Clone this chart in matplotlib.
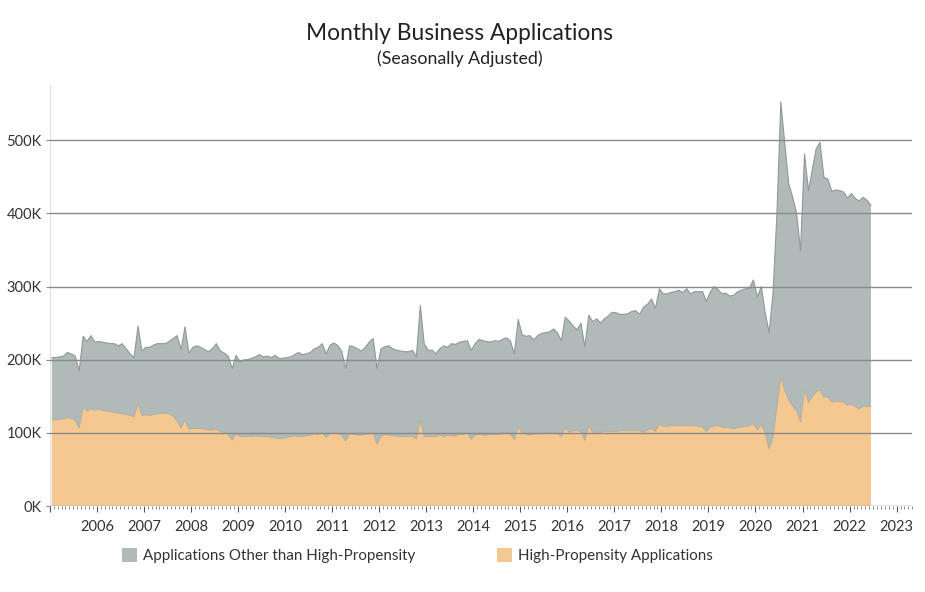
import numpy as np
import pandas as pd
import matplotlib
matplotlib.use('Agg')
import matplotlib.pyplot as plt
import matplotlib.dates as mdates
from matplotlib.patches import Patch
from matplotlib.ticker import FuncFormatter

plt.rcParams['font.family'] = ['Lato', 'DejaVu Sans']

# total business applications per month (thousands), Jan 2005 .. Jun 2022
total_k = [
    203, 203, 204, 205, 210, 208, 205, 185, 232, 225, 233, 224,   # 2005
    225, 224, 223, 222, 222, 219, 222, 215, 208, 203, 246, 212,   # 2006
    217, 217, 220, 222, 222, 222, 225, 229, 233, 214, 245, 209,   # 2007
    217, 219, 217, 214, 211, 215, 222, 212, 209, 205, 188, 206,   # 2008
    197, 200, 200, 202, 204, 207, 204, 205, 203, 206, 202, 202,   # 2009
    203, 204, 207, 210, 207, 208, 210, 215, 217, 222, 208, 220,   # 2010
    223, 219, 212, 188, 219, 218, 215, 212, 217, 224, 229, 188,   # 2011
    215, 218, 219, 215, 213, 212, 211, 211, 213, 204, 274, 222,   # 2012
    213, 213, 208, 215, 219, 217, 222, 221, 224, 225, 226, 213,   # 2013
    222, 228, 226, 225, 224, 226, 225, 228, 230, 226, 208, 255,   # 2014
    234, 232, 233, 227, 233, 236, 237, 238, 242, 237, 226, 258,   # 2015
    253, 246, 241, 250, 218, 261, 252, 256, 250, 256, 260, 265,   # 2016
    264, 262, 262, 263, 266, 267, 262, 272, 276, 283, 270, 297,   # 2017
    290, 290, 292, 293, 295, 292, 297, 290, 293, 293, 293, 280,   # 2018
    293, 300, 296, 290, 291, 287, 288, 293, 295, 297, 298, 309,   # 2019
    286, 300, 265, 237, 290, 400, 552, 495, 440, 422, 400, 349,   # 2020
    481, 431, 458, 488, 497, 449, 447, 430, 432, 431, 429, 421,   # 2021
    427, 420, 417, 422, 418, 411,                                 # 2022
]

# high-propensity applications (thousands)
high_prop_k = [
    118, 118, 118, 119, 121, 120, 117, 107, 135, 130, 133, 131,   # 2005
    132, 131, 130, 129, 128, 127, 126, 125, 124, 122, 140, 124,   # 2006
    125, 124, 125, 126, 127, 127, 126, 123, 116, 107, 118, 105,   # 2007
    106, 106, 106, 105, 104, 104, 105, 102, 101, 98, 90, 99,      # 2008
    95, 95, 95, 95, 96, 95, 95, 95, 94, 93, 92, 93,               # 2009
    94, 95, 96, 95, 95, 96, 97, 99, 98, 100, 94, 99,              # 2010
    101, 99, 97, 89, 99, 98, 97, 97, 98, 99, 100, 85,             # 2011
    95, 98, 97, 96, 96, 95, 95, 95, 95, 92, 117, 95,              # 2012
    95, 95, 95, 97, 95, 97, 96, 96, 98, 98, 100, 91,              # 2013
    97, 98, 97, 97, 98, 98, 98, 99, 100, 98, 91, 108,             # 2014
    100, 98, 97, 99, 99, 99, 100, 100, 101, 99, 95, 107,          # 2015
    101, 103, 103, 102, 90, 109, 101, 101, 101, 102, 102, 102,    # 2016
    102, 103, 103, 103, 103, 103, 103, 101, 104, 106, 102, 112,   # 2017
    109, 109, 110, 110, 110, 110, 110, 110, 110, 109, 108, 102,   # 2018
    108, 109, 110, 108, 107, 107, 106, 107, 108, 109, 110, 113,   # 2019
    104, 112, 100, 78, 93, 135, 176, 158, 145, 137, 130, 115,     # 2020
    158, 142, 149, 156, 159, 149, 149, 142, 143, 143, 142, 138,   # 2021
    139, 136, 133, 136, 136, 136,                                 # 2022
]

series_names = ['Applications Other than High-Propensity', 'High-Propensity Applications']
gray = '#afbab9'
orange = '#f4c890'

total = np.array(total_k) * 1000
high_prop = np.array(high_prop_k) * 1000
other = total - high_prop

# mid-month positions
dates = pd.date_range('2005-01-01', periods=len(total), freq='MS') + pd.Timedelta(days=15)

fig = plt.figure(figsize=(9.25, 5.92), dpi=100)
ax = fig.add_axes([0.054, 0.145, 0.932, 0.711])

ax.stackplot(dates, high_prop, other, colors=[orange, gray], linewidth=0, zorder=1)
ax.plot(dates, high_prop, color='#b2aa9c', lw=0.6, zorder=1.5)
ax.plot(dates, total, color='#8f9998', lw=0.8, zorder=1.5)

ax.set_ylim(0, 575000)
ax.set_xlim(pd.Timestamp('2005-01-01'), pd.Timestamp('2023-05-01'))

ax.set_yticks([0, 100000, 200000, 300000, 400000, 500000])
ax.yaxis.set_major_formatter(FuncFormatter(lambda v, p: f'{int(v / 1000)}K'))
ax.yaxis.grid(True, color='#8a8a8a', lw=1)
ax.set_axisbelow(False)

ax.xaxis.set_major_locator(mdates.YearLocator())
ax.xaxis.set_minor_locator(mdates.MonthLocator())
ax.xaxis.set_major_formatter(FuncFormatter(
    lambda v, p: '' if mdates.num2date(v).year == 2005 else str(mdates.num2date(v).year)))

ax.tick_params(axis='x', which='major', length=4, color='#555555', labelsize=10.5,
               labelcolor='#333333', pad=6)
ax.tick_params(axis='x', which='minor', length=2, color='#777777')
ax.tick_params(axis='y', length=3, color='#8a8a8a', labelsize=10.5, labelcolor='#333333', pad=3)

for side in ['top', 'right']:
    ax.spines[side].set_visible(False)
ax.spines['left'].set_color('#e0e0e0')
ax.spines['bottom'].set_visible(False)

fig.text(0.497, 0.944, 'Monthly Business Applications', ha='center', va='center',
         fontsize=16.4, color='#222222')
fig.text(0.497, 0.900, '(Seasonally Adjusted)', ha='center', va='center',
         fontsize=12.8, color='#222222')

handles = [Patch(facecolor=gray, edgecolor='none'), Patch(facecolor=orange, edgecolor='none')]
fig.legend(handles, series_names, loc='center', bbox_to_anchor=(0.451, 0.061), ncol=2,
           frameon=False, fontsize=10.9, handlelength=1.0, handleheight=1.0,
           handletextpad=0.4, columnspacing=5.4, labelcolor='#333333')

fig.savefig('out.png', dpi=100)
